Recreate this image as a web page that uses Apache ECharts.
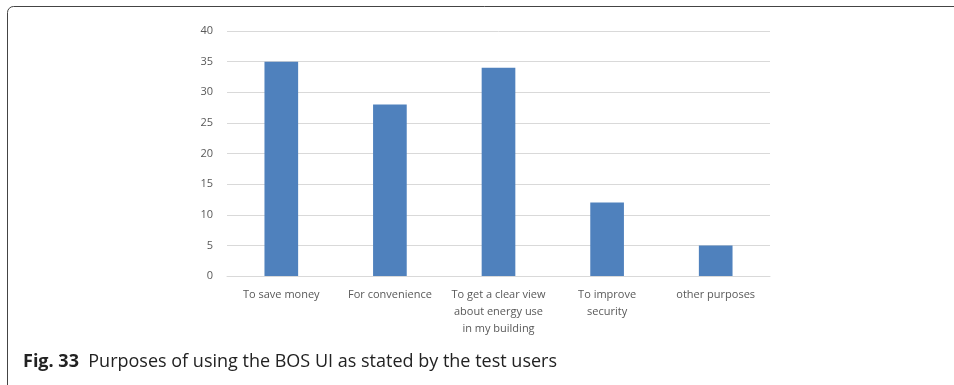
<!DOCTYPE html>
<html><head><meta charset="utf-8">
<script src="https://cdn.jsdelivr.net/npm/echarts@6/dist/echarts.min.js"></script>
<style>html,body{margin:0;padding:0;background:#fff}#c{width:954px;height:385px}</style>
</head><body><div id="c"></div>
<script>
const categories = ["To save money", "For convenience", "To get a clear view\nabout energy use\nin my building", "To improve\nsecurity", "other purposes"];
const values = [35, 28, 34, 12, 5];
const yTicks = [0, 5, 10, 15, 20, 25, 30, 35, 40];

const chart = echarts.init(document.getElementById('c'));
chart.setOption({
  animation: false,
  grid: { left: 227, right: 184, top: 31, bottom: 109, containLabel: false },
  xAxis: {
    type: 'category', data: categories,
    axisLine: { show: true, lineStyle: { color: '#d9d9d9', width: 1 } },
    axisTick: { show: false },
    axisLabel: { interval: 0, color: '#595959', fontFamily: 'Open Sans', fontSize: 11, lineHeight: 17, margin: 10 }
  },
  yAxis: {
    type: 'value', min: yTicks[0], max: yTicks[yTicks.length - 1], interval: 5,
    axisLine: { show: false }, axisTick: { show: false },
    splitLine: { lineStyle: { color: '#d9d9d9', width: 1 } },
    axisLabel: { color: '#595959', fontFamily: 'Open Sans', fontSize: 11, margin: 14 }
  },
  series: [{
    type: 'bar', data: values, barWidth: '31%',
    itemStyle: { color: '#4f81bd' }
  }],
  graphic: [
    { type: 'rect', shape: { x: 7.5, y: 6.5, width: 1200, height: 600, r: 6 }, style: { fill: 'none', stroke: '#444', lineWidth: 1 }, silent: true },
    { type: 'text', x: 23, y: 362, style: { text: '{b|Fig. 33}  Purposes of using the BOS UI as stated by the test users', verticalAlign: 'middle', rich: { b: { fontWeight: 'bold', fontFamily: 'Open Sans', fontSize: 18, fill: '#222' } }, fontFamily: 'Open Sans', fontSize: 18, fill: '#222' } }
  ]
});
</script></body></html>
